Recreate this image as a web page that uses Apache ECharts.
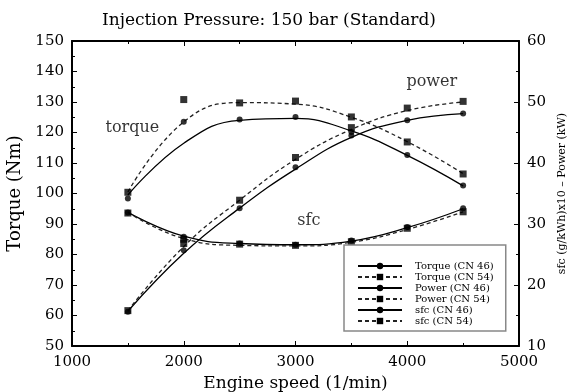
<!DOCTYPE html>
<html><head><meta charset="utf-8">
<script src="https://cdn.jsdelivr.net/npm/echarts@6/dist/echarts.min.js"></script>
<style>html,body{margin:0;padding:0;background:#fff}#c{width:576px;height:392px}</style>
</head><body><div id="c"></div>
<script>
// Engine speeds (1/min)
const speeds = [1500, 2000, 2500, 3000, 3500, 4000, 4500];
// Measured points (torque in Nm on left axis; power and sfc on right axis)
const torqueCN46 = [98.4, 123.5, 124.3, 125.1, 120.2, 112.6, 102.6];
const torqueCN54 = [100.4, 130.8, 129.7, 130.3, 125.1, 116.9, 106.4];
const powerCN46 = [15.6, 25.7, 32.6, 39.3, 44.5, 47.0, 48.1];
const powerCN54 = [15.8, 26.8, 33.9, 40.9, 45.8, 49.0, 50.1];
const sfcCN46 = [31.9, 27.9, 26.8, 26.6, 27.3, 29.5, 32.6];
const sfcCN54 = [31.8, 27.5, 26.7, 26.5, 27.1, 29.3, 32.0];
// Fitted curves at the same speeds
const torqueFitCN46 = [99.5, 116.5, 124.0, 124.6, 120.5, 112.5, 102.5];
const torqueFitCN54 = [100.5, 123.5, 129.8, 129.3, 125.0, 117.0, 106.5];
const powerFitCN46 = [15.7, 25.2, 32.6, 39.0, 44.2, 47.0, 48.1];
const powerFitCN54 = [15.8, 26.3, 33.9, 40.6, 45.5, 48.6, 50.0];
const sfcFitCN46 = [31.9, 28.0, 26.8, 26.6, 27.2, 29.4, 32.5];
const sfcFitCN54 = [31.9, 27.6, 26.5, 26.4, 27.0, 29.1, 32.0];
// Legend names
const names = ['Torque (CN 46)', 'Torque (CN 54)', 'Power (CN 46)', 'Power (CN 54)', 'sfc (CN 46)', 'sfc (CN 54)'];
// In-plot annotations [text, speed, torque-axis value]
const notes = [['torque', 1540, 121.4], ['power', 4220, 136.5], ['sfc', 3120, 91.1]];

const F = 'DejaVu Serif';
const pair = arr => speeds.map((s, i) => [s, arr[i]]);
const fits = [torqueFitCN46, torqueFitCN54, powerFitCN46, powerFitCN54, sfcFitCN46, sfcFitCN54];
const pts = [torqueCN46, torqueCN54, powerCN46, powerCN54, sfcCN46, sfcCN54];
const axisIdx = [0, 0, 1, 1, 1, 1];

const series = [];
fits.forEach((f, i) => {
  const dashed = i % 2 === 1;
  series.push({
    name: names[i], type: 'line', yAxisIndex: axisIdx[i], data: pair(f), smooth: 0.45,
    showSymbol: false, symbol: dashed ? 'rect' : 'circle', symbolSize: 6,
    lineStyle: { color: dashed ? '#222' : '#000', width: 1.3, type: dashed ? [4, 3] : 'solid' },
    itemStyle: { color: '#000' }, z: 2, silent: true
  });
});
pts.forEach((p, i) => {
  const sq = i % 2 === 1;
  series.push({
    name: 'pts' + i, type: 'scatter', yAxisIndex: axisIdx[i], data: pair(p),
    symbol: sq ? 'rect' : 'circle', symbolSize: sq ? 7 : 6,
    itemStyle: { color: '#000' }, z: 3, silent: true
  });
});
series.push({
  name: 'notes', type: 'scatter', yAxisIndex: 0, symbolSize: 0,
  data: notes.map(n => ({ value: [n[1], n[2]], label: { formatter: n[0] } })),
  label: { show: true, position: 'inside', fontFamily: F, fontSize: 16, color: '#000' }, silent: true
});

const tickStyle = { show: true, inside: true, length: 5, lineStyle: { color: '#000', width: 1 } };
const minorStyle = { show: true, splitNumber: 2, length: 3, lineStyle: { color: '#000', width: 1 } };
const axLine = { show: true, lineStyle: { color: '#000', width: 2 } };
const lab = { fontFamily: F, fontSize: 15, color: '#000' };
const plain = v => String(v);

const chart = echarts.init(document.getElementById('c'), null, { renderer: 'canvas' });
chart.setOption({
  animation: false,
  backgroundColor: '#fff',
  title: { text: 'Injection Pressure: 150 bar (Standard)', left: 97, top: 7,
    textStyle: { fontFamily: F, fontSize: 17, fontWeight: 'normal', color: '#000' } },
  grid: { left: 72, right: 57, top: 41, bottom: 46, containLabel: false, outerBoundsMode: 'none' },
  legend: {
    data: names, orient: 'vertical', left: 344, top: 245,
    padding: [16, 12, 5, 13], itemWidth: 44, itemHeight: 8, itemGap: 1,
    backgroundColor: '#fff', borderColor: '#888', borderWidth: 1.5, borderRadius: 0,
    textStyle: { fontFamily: F, fontSize: 10, color: '#000', padding: [0, 0, 0, 8] },
    selectedMode: false
  },
  xAxis: [
    { type: 'value', min: 1000, max: 5000, interval: 1000, position: 'bottom',
      name: 'Engine speed (1/min)', nameLocation: 'middle', nameGap: 27,
      nameTextStyle: { fontFamily: F, fontSize: 17, color: '#000' },
      axisLine: axLine, axisTick: tickStyle, minorTick: minorStyle,
      splitLine: { show: false }, axisLabel: Object.assign({ margin: 9, formatter: plain }, lab) },
    { type: 'value', min: 1000, max: 5000, interval: 1000, position: 'top',
      axisLine: axLine, axisTick: tickStyle, minorTick: minorStyle,
      splitLine: { show: false }, axisLabel: { show: false } }
  ],
  yAxis: [
    { type: 'value', min: 50, max: 150, interval: 10, position: 'left',
      name: 'Torque (Nm)', nameLocation: 'middle', nameGap: 44,
      nameTextStyle: { fontFamily: F, fontSize: 18, color: '#000' },
      axisLine: axLine, axisTick: tickStyle, minorTick: minorStyle,
      splitLine: { show: false }, axisLabel: Object.assign({ margin: 8, formatter: plain }, lab) },
    { type: 'value', min: 10, max: 60, interval: 10, position: 'right',
      name: 'sfc (g/kWh)x10 \u2013 Power (kW)', nameLocation: 'middle', nameGap: 36,
      nameTextStyle: { fontFamily: F, fontSize: 11, color: '#000' },
      axisLine: axLine, axisTick: tickStyle, minorTick: minorStyle,
      splitLine: { show: false }, axisLabel: Object.assign({ margin: 8, formatter: plain }, lab) }
  ],
  series: series
});
</script></body></html>
